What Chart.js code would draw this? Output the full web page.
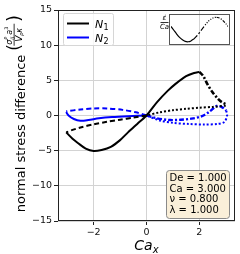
<!DOCTYPE html>
<html>
<head>
<meta charset="utf-8">
<script src="https://cdn.jsdelivr.net/npm/chart.js@4.4.1/dist/chart.umd.min.js"></script>
<style>
  html, body { margin: 0; padding: 0; background: #fff; }
  #wrap { position: relative; width: 240px; height: 254px; }
  #inset { position: absolute; left: 169px; top: 14px; }
</style>
</head>
<body>
<div id="wrap">
  <canvas id="main" width="240" height="254"></canvas>
  <canvas id="inset" width="61" height="31"></canvas>
</div>
<script>
// N1 and N2 loops vs Ca_x, one array per part of the cycle
const n1Solid = [[-3.04,-2.4],[-2.8,-3.3],[-2.6,-3.9],[-2.3,-4.7],[-2.0,-5.05],[-1.7,-4.9],[-1.35,-4.45],[-1.0,-3.5],[-0.7,-2.4],[-0.35,-1.2],[0,0],[0.4,1.9],[0.8,3.5],[1.1,4.5],[1.5,5.6],[1.8,6.05],[2.0,6.2]];
const n1DashDot = [[2.0,6.2],[2.15,5.6],[2.3,4.5],[2.5,3.3],[2.7,2.4],[2.85,1.9],[3.02,1.6]];
const n1Dotted = [[3.0,1.4],[2.5,1.22],[2.0,1.1],[1.5,0.95],[1.0,0.75],[0.5,0.45],[0,0]];
const n1Dashed = [[0,0],[-0.5,-0.3],[-1.0,-0.6],[-1.5,-0.9],[-2.0,-1.25],[-2.5,-1.7],[-2.8,-2.05],[-3.04,-2.4]];

const n2Solid = [[-3.04,0.5],[-2.95,0.0],[-2.75,-0.5],[-2.5,-0.75],[-2.2,-0.65],[-1.8,-0.4],[-1.3,-0.22],[-0.7,-0.1],[0,0]];
const n2DashDot = [[0,0],[0.4,-0.4],[0.9,-0.65],[1.3,-0.6],[1.7,-0.45],[2.1,-0.1],[2.4,0.6],[2.66,1.35],[2.85,1.2],[3.02,0.7]];
const n2Dotted = [[3.02,0.7],[3.05,0],[2.95,-0.9],[2.7,-1.2],[2.2,-1.28],[1.6,-1.2],[1.0,-1.05],[0.5,-0.7],[0,0]];
const n2Dashed = [[0,0],[-0.4,0.45],[-0.9,0.8],[-1.5,1.0],[-2.0,1.0],[-2.5,0.85],[-3.04,0.6]];

const xTicks = [-2, 0, 2];
const yTicks = [-15, -10, -5, 0, 5, 10, 15];

// inset: strain rate over one period
const insetT = [0,0.05,0.1,0.15,0.2,0.25,0.3,0.35,0.4,0.45,0.5,0.55,0.6,0.65,0.7,0.75,0.8,0.85,0.9,0.95,1.0];
const insetRate = [0.25,-0.06,-0.37,-0.64,-0.84,-0.97,-1.0,-0.93,-0.77,-0.54,-0.25,0.06,0.37,0.64,0.84,0.97,1.0,0.93,0.77,0.54,0.25];

const paramLines = ['De = 1.000', 'Ca = 3.000', '\u03bd = 0.800', '\u03bb = 1.000'];

const DASHED = [5, 3];
const DOTTED = [2, 2];
const DASHDOT = [5, 2, 2, 2];

function pts(arr) {
    return arr.map(function (p) { return { x: p[0], y: p[1] }; });
}

function seg(arr, color, dash, width) {
    return {
        data: pts(arr),
        showLine: true,
        borderColor: color,
        borderWidth: width || 2,
        borderDash: dash,
        pointRadius: 0,
        tension: 0.3,
        fill: false
    };
}

const fmt = function (v) { return v < 0 ? '\u2212' + Math.abs(v) : String(v); };

const decor = {
    id: 'decor',
    afterDraw: function (chart) {
        const ctx = chart.ctx;
        const a = chart.chartArea;
        ctx.save();

        // full frame
        ctx.strokeStyle = '#222';
        ctx.lineWidth = 1;
        ctx.strokeRect(Math.round(a.left) + 0.5, Math.round(a.top) + 0.5,
            Math.round(a.right - a.left) - 1, Math.round(a.bottom - a.top) - 1);

        // legend
        ctx.fillStyle = 'rgba(255,255,255,0.8)';
        ctx.strokeStyle = '#d6d6d6';
        ctx.beginPath();
        ctx.roundRect(63.5, 13.5, 50, 32, 2);
        ctx.fill();
        ctx.stroke();
        ctx.lineWidth = 2;
        ctx.strokeStyle = '#000';
        ctx.beginPath(); ctx.moveTo(67, 23.5); ctx.lineTo(89, 23.5); ctx.stroke();
        ctx.strokeStyle = '#0000ff';
        ctx.beginPath(); ctx.moveTo(67, 37.5); ctx.lineTo(89, 37.5); ctx.stroke();
        ctx.fillStyle = '#000';
        ctx.textBaseline = 'alphabetic';
        ctx.textAlign = 'left';
        [['1', 27.5], ['2', 41.5]].forEach(function (l) {
            ctx.font = 'italic 11px "DejaVu Sans"';
            ctx.fillText('N', 95, l[1]);
            ctx.font = '8px "DejaVu Sans"';
            ctx.fillText(l[0], 103.5, l[1] + 2);
        });

        // parameter box
        ctx.lineWidth = 1;
        ctx.fillStyle = '#faefd9';
        ctx.strokeStyle = '#8a8a8a';
        ctx.beginPath();
        ctx.roundRect(166.5, 170.5, 63, 48, 3);
        ctx.fill();
        ctx.stroke();
        ctx.fillStyle = '#000';
        ctx.font = '10px "DejaVu Sans"';
        paramLines.forEach(function (t, i) {
            ctx.fillText(t, 169.5, 181 + i * 10.5);
        });

        // inset label
        ctx.font = 'italic 7px "DejaVu Sans"';
        ctx.textAlign = 'center';
        ctx.fillText('\u03b5\u0307', 164.5, 20);
        ctx.fillRect(160.5, 22, 8, 0.8);
        ctx.fillText('Ca', 164.5, 29);

        // x title
        ctx.textAlign = 'left';
        ctx.font = 'italic 14px "DejaVu Sans"';
        const cx = (a.left + a.right) / 2;
        const wCa = ctx.measureText('Ca').width;
        ctx.fillText('Ca', cx - wCa / 2 - 3, 250);
        ctx.font = 'italic 10px "DejaVu Sans"';
        ctx.fillText('x', cx + wCa / 2 - 3, 253);

        // y title: text plus fraction in parentheses
        ctx.translate(25, 114);
        ctx.rotate(-Math.PI / 2);
        ctx.font = '13px "DejaVu Sans"';
        const main = 'normal stress difference';
        const w1 = ctx.measureText(main).width;
        const total = w1 + 4 + 35;
        let u = -total / 2;
        ctx.fillText(main, u, 0);
        u += w1 + 4;
        ctx.font = '17px "DejaVu Sans"';
        ctx.fillText('(', u, -5);
        ctx.fillText(')', u + 29, -5);
        ctx.font = 'italic 8px "DejaVu Sans"';
        ctx.fillText('\u03c3', u + 6, -13);
        ctx.font = 'italic 5px "DejaVu Sans"';
        ctx.fillText('P', u + 11, -17);
        ctx.fillText('ij', u + 11, -11.5);
        ctx.font = 'italic 8px "DejaVu Sans"';
        ctx.fillText('a', u + 16, -13);
        ctx.font = '5px "DejaVu Sans"';
        ctx.fillText('3', u + 21, -17);
        ctx.fillRect(u + 5, -11.3, 22, 0.8);
        ctx.font = 'italic 9px "DejaVu Sans"';
        ctx.fillText('V', u + 9, -3.5);
        ctx.font = 'italic 5px "DejaVu Sans"';
        ctx.fillText('p', u + 15, -2);
        ctx.font = 'italic 8px "DejaVu Sans"';
        ctx.fillText('\u03ba', u + 18, -3.5);
        ctx.restore();
    }
};

new Chart(document.getElementById('main').getContext('2d'), {
    type: 'scatter',
    data: {
        datasets: [
            seg(n1Solid, '#000', []),
            seg(n1DashDot, '#000', DASHDOT, 2.6),
            seg(n1Dotted, '#000', DOTTED),
            seg(n1Dashed, '#000', DASHED),
            seg(n2Solid, '#0000ff', []),
            seg(n2DashDot, '#0000ff', DASHDOT, 2.4),
            seg(n2Dotted, '#0000ff', DOTTED),
            seg(n2Dashed, '#0000ff', DASHED)
        ]
    },
    options: {
        responsive: false,
        animation: false,
        layout: { padding: { top: 10, right: 5, left: 0, bottom: 0 } },
        plugins: { legend: { display: false }, tooltip: { enabled: false } },
        scales: {
            x: {
                type: 'linear',
                min: -3.35,
                max: 3.35,
                afterFit: function (s) { s.height = 33; },
                afterBuildTicks: function (s) { s.ticks = xTicks.map(function (v) { return { value: v }; }); },
                grid: { color: '#d3d3d3', tickColor: '#222', tickLength: 4 },
                border: { display: false },
                ticks: { padding: 2, color: '#111', font: { family: 'DejaVu Sans', size: 9.5 }, maxRotation: 0, callback: fmt }
            },
            y: {
                min: -15,
                max: 15,
                afterFit: function (s) { s.width = 58; },
                afterBuildTicks: function (s) { s.ticks = yTicks.map(function (v) { return { value: v }; }); },
                grid: { color: '#d3d3d3', tickColor: '#222', tickLength: 4 },
                border: { display: false },
                ticks: { padding: 2, color: '#111', font: { family: 'DejaVu Sans', size: 9.5 }, callback: fmt }
            }
        }
    },
    plugins: [decor]
});

// inset chart
const insetFrame = {
    id: 'insetFrame',
    afterDraw: function (chart) {
        const ctx = chart.ctx;
        ctx.save();
        ctx.strokeStyle = '#555';
        ctx.lineWidth = 1;
        ctx.strokeRect(0.5, 0.5, chart.width - 1, chart.height - 1);
        ctx.restore();
    }
};

function insetSeg(from, to, dash) {
    const d = [];
    for (let i = from; i <= to; i++) d.push({ x: insetT[i], y: insetRate[i] });
    return { data: d, showLine: true, borderColor: '#000', borderWidth: 1.2, borderDash: dash, pointRadius: 0, tension: 0.3 };
}

new Chart(document.getElementById('inset').getContext('2d'), {
    type: 'scatter',
    data: {
        datasets: [
            insetSeg(0, 8, []),
            insetSeg(8, 12, DASHDOT),
            insetSeg(12, 16, [1, 1.5]),
            insetSeg(16, 20, [3, 1.5, 1, 1.5])
        ]
    },
    options: {
        responsive: false,
        animation: false,
        layout: { padding: { left: 2, right: 2, top: 2, bottom: 2 } },
        plugins: { legend: { display: false }, tooltip: { enabled: false } },
        scales: {
            x: { display: false, min: 0, max: 1 },
            y: { display: false, min: -1.1, max: 1.1 }
        }
    },
    plugins: [insetFrame]
});
</script>
</body>
</html>
